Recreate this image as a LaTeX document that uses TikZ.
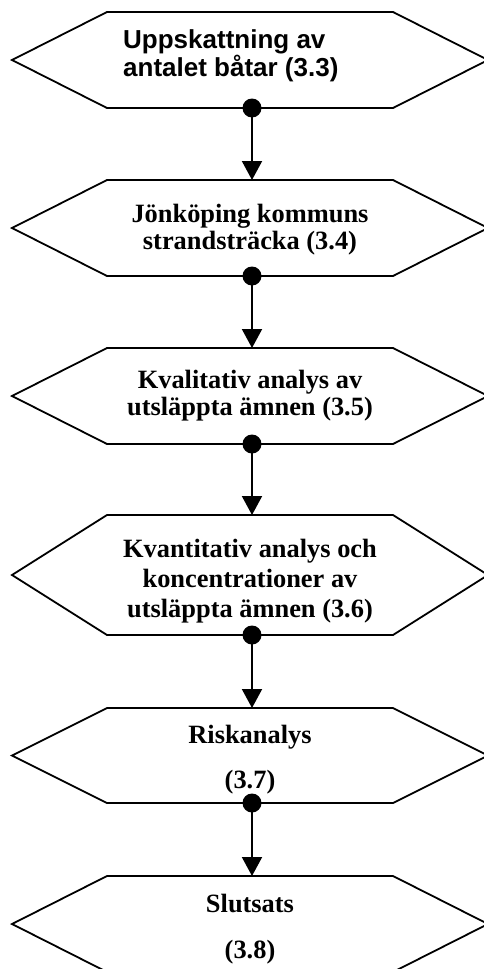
\documentclass[tikz,border=0pt]{standalone}
\usepackage{fontspec}
\setmainfont{Liberation Serif}
\newfontfamily\arialfam{Liberation Sans}
\usetikzlibrary{arrows.meta}
\newcommand\lnstrut{\vrule width 0pt height 20pt depth 20pt\relax}
\newcommand\tightlines{\lineskiplimit=-100pt\relax}
\tikzset{
  hexbox/.style={draw=black, line width=1.8pt, line join=miter},
  seriftext/.style={inner sep=0pt, align=center,
    font=\fontsize{26.4}{#1}\selectfont\bfseries\tightlines},
  sanstext/.style={inner sep=0pt, align=left,
    font=\arialfam\fontsize{26}{#1}\selectfont\bfseries\tightlines},
  dotnode/.style={circle, fill=black, inner sep=0pt, minimum size=19pt},
  conn/.style={line width=2pt, -{Triangle[width=20pt,length=19pt]}}
}
\begin{document}
\begin{tikzpicture}[x=1pt,y=-1pt]
\clip (0,0) rectangle (484,969);
\fill[white] (0,0) rectangle (484,969);
% hexagons
\draw[hexbox] (12,60) -- (107,12) -- (393,12) -- (488,60) -- (393,108) -- (107,108) -- cycle;
\draw[hexbox] (12,228) -- (107,180) -- (393,180) -- (488,228) -- (393,276) -- (107,276) -- cycle;
\draw[hexbox] (12,396) -- (107,348) -- (393,348) -- (488,396) -- (393,444) -- (107,444) -- cycle;
\draw[hexbox] (12,575) -- (107,515) -- (393,515) -- (488,575) -- (393,635) -- (107,635) -- cycle;
\draw[hexbox] (12,755.5) -- (107,708) -- (393,708) -- (488,755.5) -- (393,803) -- (107,803) -- cycle;
\draw[hexbox] (12,924) -- (107,876) -- (393,876) -- (488,924) -- (393,972) -- (107,972) -- cycle;
% texts
\node[sanstext=28, anchor=west] (h1) at (123,62) {\lnstrut Uppskattning av\\\lnstrut antalet båtar (3.3)};
\node[seriftext=26.5] (h2) at (250,235.75) {\lnstrut Jönköping kommuns\\\lnstrut strandsträcka (3.4)};
\node[seriftext=27] (h3) at (250,401.5) {\lnstrut Kvalitativ analys av\\\lnstrut utsläppta ämnen (3.5)};
\node[seriftext=30] (h4) at (250,587) {\lnstrut Kvantitativ analys och\\\lnstrut koncentrationer av\\\lnstrut utsläppta ämnen (3.6)};
\node[seriftext=45] (h5) at (250,765.5) {\lnstrut Riskanalys\\\lnstrut (3.7)};
\node[seriftext=46] (h6) at (250,935) {\lnstrut Slutsats\\\lnstrut (3.8)};
% connection points
\coordinate (t2) at (252,180);
\coordinate (t3) at (252,348);
\coordinate (t4) at (252,515);
\coordinate (t5) at (252,708);
\coordinate (t6) at (252,876);
\node[dotnode] (d1) at (252,108) {};
\node[dotnode] (d2) at (252,276) {};
\node[dotnode] (d3) at (252,444) {};
\node[dotnode] (d4) at (252,635) {};
\node[dotnode] (d5) at (252,803) {};
\draw[conn] (d1.center) -- (t2);
\draw[conn] (d2.center) -- (t3);
\draw[conn] (d3.center) -- (t4);
\draw[conn] (d4.center) -- (t5);
\draw[conn] (d5.center) -- (t6);
\end{tikzpicture}
\end{document}
